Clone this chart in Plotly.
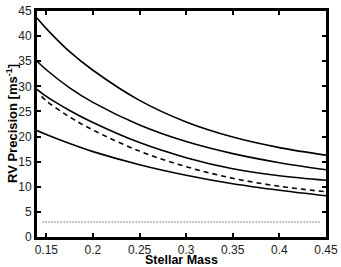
import plotly.graph_objects as go

mass = [0.14, 0.15, 0.175, 0.2, 0.25, 0.3, 0.35, 0.4, 0.45]
curve_a = [43.6, 41.5, 36.9, 33.2, 27.2, 22.9, 19.9, 17.8, 16.3]
curve_b = [35.0, 33.3, 29.7, 26.8, 22.3, 19.0, 16.6, 14.8, 13.4]
curve_c = [29.4, 28.0, 25.2, 22.8, 18.8, 15.8, 13.6, 12.2, 11.3]
curve_e = [21.2, 20.4, 18.6, 17.0, 14.4, 12.3, 10.6, 9.3, 8.2]
mass_dash = [0.145, 0.15, 0.175, 0.2, 0.25, 0.3, 0.35, 0.4, 0.45]
curve_dash = [28.0, 27.1, 23.9, 21.3, 17.1, 14.0, 11.7, 10.1, 9.0]
floor_mass = [0.146, 0.445]
floor_val = [3.0, 3.0]

x_ticks = [0.15, 0.2, 0.25, 0.3, 0.35, 0.4, 0.45]
x_labels = ["0.15", "0.2", "0.25", "0.3", "0.35", "0.4", "0.45"]
y_ticks = [0, 5, 10, 15, 20, 25, 30, 35, 40, 45]
x_title = "<b>Stellar Mass</b>"
y_title = "<b>RV Precision [ms<sup>-1</sup>]</b>"

fig = go.Figure()
for ys in (curve_a, curve_b, curve_c, curve_e):
    fig.add_trace(go.Scatter(x=mass, y=ys, mode="lines",
                             line=dict(color="black", width=1.6, shape="spline")))
fig.add_trace(go.Scatter(x=mass_dash, y=curve_dash, mode="lines",
                         line=dict(color="black", width=1.6, dash="5px,4px", shape="spline")))
fig.add_trace(go.Scatter(x=floor_mass, y=floor_val, mode="lines",
                         line=dict(color="#666", width=1.5, dash="1px,2px")))

axis_common = dict(showline=True, linecolor="black", linewidth=2.8, mirror="ticks",
                   ticks="inside", ticklen=4, tickwidth=2, tickcolor="black",
                   showgrid=False, zeroline=False, ticklabeloverflow="allow",
                   automargin=False,
                   tickfont=dict(family="Liberation Sans, Arial", size=12, color="#222"))

fig.update_layout(
    width=341, height=267,
    margin=dict(l=37, r=15, t=11, b=30),
    paper_bgcolor="white", plot_bgcolor="white",
    showlegend=False,
    xaxis=dict(range=[0.14, 0.45], tickvals=x_ticks, ticktext=x_labels, **axis_common),
    yaxis=dict(range=[0, 45], tickvals=y_ticks, **axis_common),
    annotations=[
        dict(text=x_title, xref="paper", yref="paper", x=0.5, y=0,
             xanchor="center", yanchor="middle", yshift=-23, showarrow=False,
             font=dict(family="Liberation Sans, Arial", size=12.5, color="black")),
        dict(text=y_title, xref="paper", yref="paper", x=0, y=0.5,
             xanchor="center", yanchor="middle", xshift=-25, textangle=-90,
             showarrow=False,
             font=dict(family="Liberation Sans, Arial", size=13, color="black")),
    ],
)
fig.write_html("out.html", config={"displayModeBar": False},
               post_script="document.body.style.margin='0';")
